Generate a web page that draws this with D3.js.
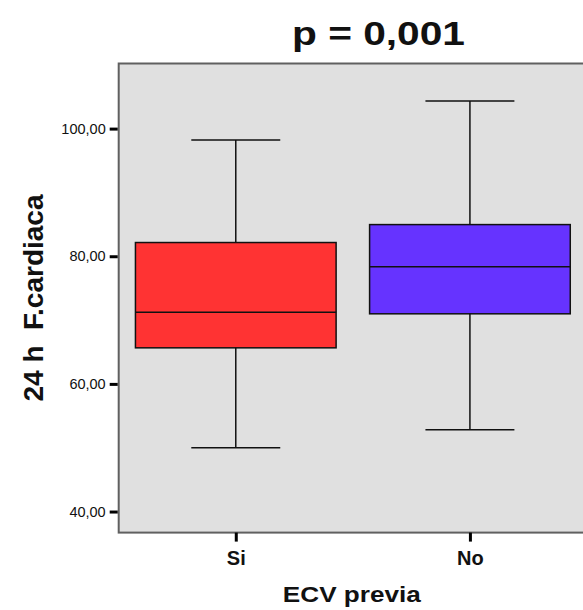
<!DOCTYPE html>
<html>
<head>
<meta charset="utf-8">
<script src="https://cdn.jsdelivr.net/npm/d3@7"></script>
<style>
  body { margin: 0; background: #fff; }
  svg { display: block; font-family: "Liberation Sans", Arial, sans-serif; }
</style>
</head>
<body>
<div class="main"></div>
<script>
// Données
const categories = ['Si', 'No'];
const mins    = [50.0, 52.8];
const q1s     = [65.65, 70.98];
const medians = [71.24, 78.34];
const q3s     = [82.15, 84.96];
const maxs    = [98.23, 104.34];
const colors  = ['#ff3333', '#6633ff'];
const yTicks  = [40, 60, 80, 100];

const width = 583;
const height = 610;
const plot = { left: 118.7, right: 587, top: 63.5, bottom: 532.6 };

const boxes = categories.map((c, i) => ({
    cat: c, min: mins[i], q1: q1s[i], med: medians[i], q3: q3s[i], max: maxs[i], color: colors[i]
}));

const svg = d3.select('.main')
    .append('svg')
    .attr('width', width)
    .attr('height', height);

const x = d3.scalePoint()
    .domain(categories)
    .range([plot.left, plot.right])
    .padding(0.5);

const y = d3.scaleLinear()
    .domain([36.7, 110.2])
    .range([plot.bottom, plot.top]);

const step = x.step();
const boxW = step * 0.857;
const capW = step * 0.38;

// Fond du graphique
svg.append('rect')
    .attr('x', plot.left)
    .attr('y', plot.top)
    .attr('width', plot.right - plot.left)
    .attr('height', plot.bottom - plot.top)
    .attr('fill', '#e0e0e0')
    .attr('stroke', '#606060')
    .attr('stroke-width', 2);

// Boîtes à moustaches
const g = svg.append('g')
    .selectAll('g')
    .data(boxes)
    .enter()
    .append('g');

g.append('line')
    .attr('x1', d => x(d.cat)).attr('x2', d => x(d.cat))
    .attr('y1', d => y(d.max)).attr('y2', d => y(d.min))
    .attr('stroke', '#111').attr('stroke-width', 1.5);

g.append('line')
    .attr('x1', d => x(d.cat) - capW / 2).attr('x2', d => x(d.cat) + capW / 2)
    .attr('y1', d => y(d.max)).attr('y2', d => y(d.max))
    .attr('stroke', '#111').attr('stroke-width', 1.5);

g.append('line')
    .attr('x1', d => x(d.cat) - capW / 2).attr('x2', d => x(d.cat) + capW / 2)
    .attr('y1', d => y(d.min)).attr('y2', d => y(d.min))
    .attr('stroke', '#111').attr('stroke-width', 1.5);

g.append('rect')
    .attr('x', d => x(d.cat) - boxW / 2)
    .attr('y', d => y(d.q3))
    .attr('width', boxW)
    .attr('height', d => y(d.q1) - y(d.q3))
    .attr('fill', d => d.color)
    .attr('stroke', '#111')
    .attr('stroke-width', 1.5);

g.append('line')
    .attr('x1', d => x(d.cat) - boxW / 2).attr('x2', d => x(d.cat) + boxW / 2)
    .attr('y1', d => y(d.med)).attr('y2', d => y(d.med))
    .attr('stroke', '#111').attr('stroke-width', 1.5);

// Axe vertical
svg.append('g')
    .attr('transform', `translate(${plot.left - 1}, 0)`)
    .call(d3.axisLeft(y).tickValues(yTicks).tickSize(8).tickPadding(4)
        .tickFormat(d => d3.format('.2f')(d).replace('.', ',')))
    .call(g => g.select('.domain').remove())
    .call(g => g.selectAll('.tick line').attr('stroke', '#000').attr('stroke-width', 3))
    .call(g => g.selectAll('.tick text')
        .attr('fill', '#111')
        .style('font-size', '14.5px')
        .style('font-family', '"Liberation Sans", Arial, sans-serif'));

// Axe horizontal
svg.append('g')
    .attr('transform', `translate(0, ${plot.bottom})`)
    .call(d3.axisBottom(x).tickSize(9).tickPadding(9))
    .call(g => g.select('.domain').remove())
    .call(g => g.selectAll('.tick line').attr('stroke', '#000').attr('stroke-width', 3))
    .call(g => g.selectAll('.tick text')
        .attr('fill', '#111')
        .style('font-size', '20px')
        .style('font-weight', 'bold')
        .style('font-family', '"Liberation Sans", Arial, sans-serif'));

// Titres
svg.append('text')
    .attr('x', 378.5)
    .attr('y', 45)
    .attr('text-anchor', 'middle')
    .attr('textLength', 173)
    .attr('lengthAdjust', 'spacingAndGlyphs')
    .style('font-size', '34px')
    .style('font-weight', 'bold')
    .attr('fill', '#111')
    .text('p = 0,001');

svg.append('text')
    .attr('x', (plot.left + plot.right) / 2 - 1)
    .attr('y', 601.5)
    .attr('text-anchor', 'middle')
    .attr('textLength', 138)
    .attr('lengthAdjust', 'spacingAndGlyphs')
    .style('font-size', '22px')
    .style('font-weight', 'bold')
    .attr('fill', '#111')
    .text('ECV previa');

svg.append('text')
    .attr('transform', 'translate(43, 298) rotate(-90)')
    .attr('text-anchor', 'middle')
    .style('font-size', '28px')
    .style('font-weight', 'bold')
    .style('white-space', 'pre')
    .attr('fill', '#111')
    .text('24 h  F.cardiaca');
</script>
</body>
</html>
